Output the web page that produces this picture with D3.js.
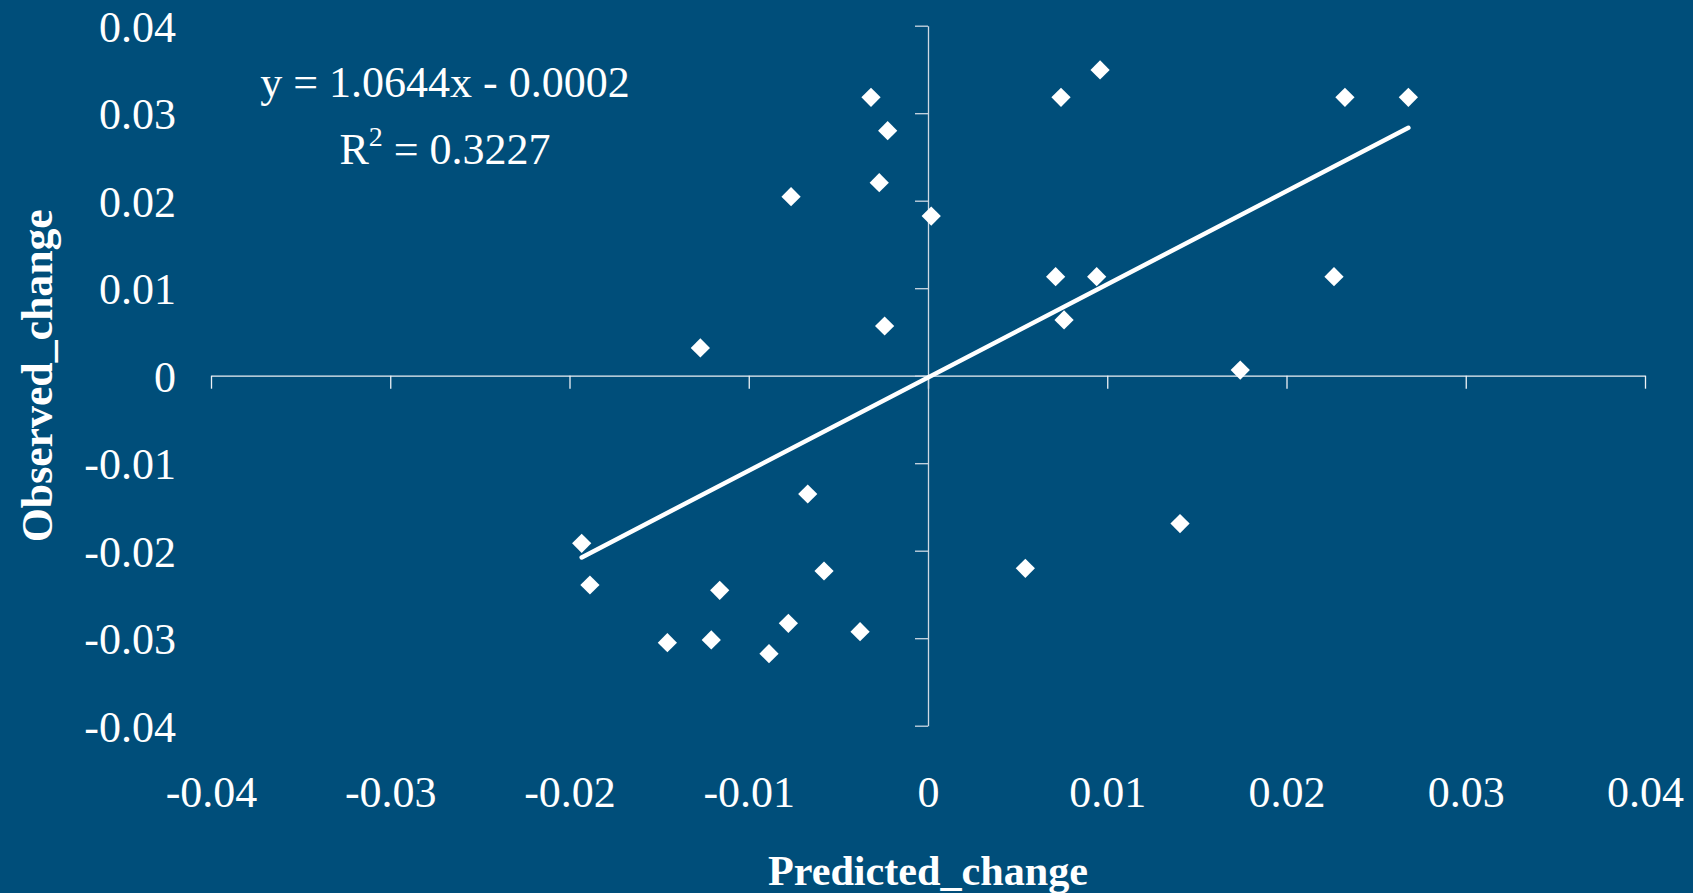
<!DOCTYPE html>
<html>
<head>
<meta charset="utf-8">
<script src="https://cdn.jsdelivr.net/npm/d3@7"></script>
<style>
  body { margin: 0; background: #004e7a; }
  svg { display: block; }
</style>
</head>
<body>
<div id="scatter"></div>
<script>
// values
const predicted = [-0.00318, -0.00225, -0.00272, -0.00764, 0.00018, 0.00742, 0.00712, 0.00759,
    -0.00242, -0.0127, 0.0096, 0.02326, 0.0268, 0.00941, 0.02265, 0.01742,
    -0.01932, -0.01886, -0.00671, -0.0058, -0.01162, -0.01454, -0.01209, -0.00887,
    -0.00779, -0.00379, 0.00543, 0.01406];
const observed = [0.03182, 0.0280, 0.02206, 0.02046, 0.01825, 0.03182, 0.01131, 0.00637,
    0.00568, 0.00317, 0.03494, 0.03182, 0.03182, 0.01131, 0.01131, 0.00065,
    -0.01915, -0.02392, -0.01352, -0.02232, -0.02453, -0.03051, -0.0302, -0.03177,
    -0.0283, -0.02926, -0.02201, -0.0169];
const xTicks = [-0.04, -0.03, -0.02, -0.01, 0, 0.01, 0.02, 0.03, 0.04];
const yTicks = [-0.04, -0.03, -0.02, -0.01, 0, 0.01, 0.02, 0.03, 0.04];
const trendSlope = 1.0644;
const trendIntercept = -0.0002;
const equationLabel = "y = 1.0644x - 0.0002";
const r2Value = "0.3227";
const xTitle = "Predicted_change";
const yTitle = "Observed_change";

function renderScatter(selector){
    const width = 1693, height = 893;
    const margin = {top: 25.7, right: 48, bottom: 167.3, left: 211};
    const font = "'Liberation Serif', 'Times New Roman', serif";

    const svg = d3.select("#"+selector)
    .append("svg")
    .attr("width", width)
    .attr("height", height)
    .style("font-family", font);

    svg.append("rect")
    .attr("width", width)
    .attr("height", height)
    .attr("fill", "#004e7a");

    const x = d3.scaleLinear()
    .domain([-0.04, 0.04])
    .range([margin.left, width - margin.right]);
    const y = d3.scaleLinear()
    .domain([-0.04, 0.04])
    .range([height - margin.bottom, margin.top]);

    const fmt = d => d === 0 ? "0" : String(+d.toFixed(2));

    // axis lines cross at zero, ticks only
    const xAxis = svg.append("g")
    .attr("transform", `translate(0, ${y(0)})`)
    .call(d3.axisBottom(x).tickValues(xTicks).tickSize(13).tickSizeOuter(0).tickFormat(""));
    xAxis.selectAll("path, line").attr("stroke", "#eef2f6").attr("stroke-width", 1.3);

    const yAxis = svg.append("g")
    .attr("transform", `translate(${x(0)}, 0)`)
    .call(d3.axisLeft(y).tickValues(yTicks).tickSize(13).tickSizeOuter(0).tickFormat(""));
    yAxis.selectAll("path, line").attr("stroke", "#cdd9e4").attr("stroke-width", 1.3);

    // tick labels sit at the outer edges of the plot
    const xLabels = svg.append("g")
    .attr("transform", `translate(0, ${y(-0.04)})`)
    .call(d3.axisBottom(x).tickValues(xTicks).tickSize(0).tickPadding(50).tickFormat(fmt));
    xLabels.select(".domain").remove();
    xLabels.selectAll("text")
    .attr("fill", "#fff")
    .style("font-family", font)
    .style("font-size", "44px");

    const yLabels = svg.append("g")
    .attr("transform", `translate(186, 0)`)
    .call(d3.axisLeft(y).tickValues(yTicks).tickSize(0).tickPadding(10).tickFormat(fmt));
    yLabels.select(".domain").remove();
    yLabels.selectAll("text")
    .attr("fill", "#fff")
    .attr("dy", "0.35em")
    .style("font-family", font)
    .style("font-size", "44px");

    // trend line
    const ext = d3.extent(predicted);
    svg.append("line")
    .attr("x1", x(ext[0]))
    .attr("y1", y(trendSlope*ext[0] + trendIntercept))
    .attr("x2", x(ext[1]))
    .attr("y2", y(trendSlope*ext[1] + trendIntercept))
    .attr("stroke", "#fff")
    .attr("stroke-width", 4.5)
    .attr("stroke-linecap", "round");

    // points
    const diamond = d3.symbol(d3.symbolSquare, 185);
    svg.append("g")
    .selectAll("path")
    .data(predicted.map((p, i) => ({p: p, o: observed[i]})))
    .join("path")
    .attr("d", diamond)
    .attr("transform", d => `translate(${x(d.p)},${y(d.o)}) rotate(45)`)
    .attr("fill", "#fff");

    // equation
    svg.append("text")
    .attr("x", 445)
    .attr("y", 97)
    .attr("text-anchor", "middle")
    .attr("fill", "#fff")
    .style("font-size", "44px")
    .text(equationLabel);

    const r2 = svg.append("text")
    .attr("x", 445)
    .attr("y", 164)
    .attr("text-anchor", "middle")
    .attr("fill", "#fff")
    .style("font-size", "44px");
    r2.append("tspan").text("R");
    r2.append("tspan").attr("dy", -18).style("font-size", "28px").text("2");
    r2.append("tspan").attr("dy", 18).text(" = " + r2Value);

    // axis titles
    svg.append("text")
    .attr("x", x(0))
    .attr("y", 885)
    .attr("text-anchor", "middle")
    .attr("fill", "#fff")
    .attr("font-weight", "bold")
    .attr("textLength", 320)
    .attr("lengthAdjust", "spacingAndGlyphs")
    .style("font-size", "42px")
    .text(xTitle);

    svg.append("text")
    .attr("transform", `translate(52, ${y(0)}) rotate(-90)`)
    .attr("text-anchor", "middle")
    .attr("fill", "#fff")
    .attr("font-weight", "bold")
    .attr("textLength", 333)
    .attr("lengthAdjust", "spacingAndGlyphs")
    .style("font-size", "45px")
    .text(yTitle);
}

renderScatter("scatter");
</script>
</body>
</html>
